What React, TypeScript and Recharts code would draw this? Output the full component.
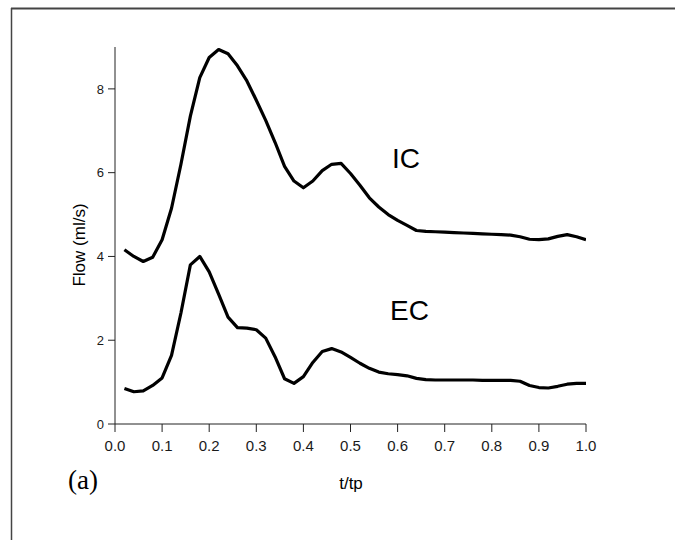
import React from "react";
import { LineChart, Line, XAxis, YAxis } from "recharts";

const T = [
  0.02, 0.04, 0.06, 0.08, 0.1, 0.12, 0.14, 0.16, 0.18, 0.2,
  0.22, 0.24, 0.26, 0.28, 0.3, 0.32, 0.34, 0.36, 0.38, 0.4,
  0.42, 0.44, 0.46, 0.48, 0.5, 0.52, 0.54, 0.56, 0.58, 0.6,
  0.62, 0.64, 0.66, 0.68, 0.7, 0.72, 0.74, 0.76, 0.78, 0.8,
  0.82, 0.84, 0.86, 0.88, 0.9, 0.92, 0.94, 0.96, 0.98, 1.0,
];

const IC = [
  4.16, 4.0, 3.88, 3.98, 4.4, 5.15, 6.2, 7.35, 8.27, 8.75,
  8.94, 8.84, 8.55, 8.19, 7.73, 7.25, 6.72, 6.15, 5.8, 5.64,
  5.8, 6.05, 6.2, 6.22, 5.98, 5.7, 5.4, 5.18, 5.0, 4.86,
  4.74, 4.62, 4.6, 4.59, 4.58, 4.57, 4.56, 4.55, 4.54, 4.53,
  4.52, 4.51, 4.47, 4.41, 4.4, 4.42, 4.48, 4.52, 4.47, 4.4,
];

const EC = [
  0.85, 0.77, 0.79, 0.92, 1.1, 1.64, 2.65, 3.8, 4.0, 3.63,
  3.1, 2.55, 2.3, 2.29, 2.25, 2.05, 1.6, 1.08, 0.97, 1.13,
  1.47, 1.73, 1.8, 1.72, 1.59, 1.45, 1.33, 1.24, 1.2, 1.18,
  1.15, 1.09, 1.06, 1.05, 1.05, 1.05, 1.05, 1.05, 1.04, 1.04,
  1.04, 1.04, 1.02, 0.92, 0.87, 0.86, 0.9, 0.95, 0.97, 0.97,
];

const X_TICKS = [0, 0.1, 0.2, 0.3, 0.4, 0.5, 0.6, 0.7, 0.8, 0.9, 1.0];
const Y_TICKS = [0, 2, 4, 6, 8];

const data = T.map((t, i) => ({ t, ic: IC[i], ec: EC[i] }));

const SANS = "'Liberation Sans', Arial, Helvetica, sans-serif";
const SERIF = "'Liberation Serif', 'Times New Roman', serif";

export default function App() {
  return (
    <div style={{ position: "absolute", left: 0, top: 0, width: 675, height: 540, background: "#fff", overflow: "hidden" }}>
      <LineChart
        width={675}
        height={540}
        data={data}
        margin={{ top: 47, right: 89, bottom: 86, left: 75 }}
      >
        <XAxis
          dataKey="t"
          type="number"
          domain={[0, 1]}
          ticks={X_TICKS}
          tickFormatter={(v: number) => v.toFixed(1)}
          height={30}
          tickSize={8}
          tickMargin={8}
          stroke="#222"
          tick={{ fill: "#1a1a1a", fontSize: 15, fontFamily: SANS }}
          allowDataOverflow
        />
        <YAxis
          type="number"
          domain={[0, 9]}
          ticks={Y_TICKS}
          width={40}
          tickSize={7}
          tickMargin={4}
          stroke="#222"
          tick={{ fill: "#1a1a1a", fontSize: 13, fontFamily: SANS }}
          allowDataOverflow
        />
        <Line
          dataKey="ic"
          type="linear"
          stroke="#000"
          strokeWidth={3.2}
          dot={false}
          isAnimationActive={false}
          strokeLinejoin="round"
        />
        <Line
          dataKey="ec"
          type="linear"
          stroke="#000"
          strokeWidth={3.2}
          dot={false}
          isAnimationActive={false}
          strokeLinejoin="round"
        />
      </LineChart>
      <svg
        width={675}
        height={540}
        style={{ position: "absolute", left: 0, top: 0, pointerEvents: "none" }}
      >
        <line x1={11} y1={8.5} x2={675} y2={8.5} stroke="#444" strokeWidth={2} />
        <line x1={11.5} y1={8} x2={11.5} y2={540} stroke="#444" strokeWidth={1.5} />
        <text x={392} y={168} fontFamily={SANS} fontSize={28} fill="#000">IC</text>
        <text x={390} y={320} fontFamily={SANS} fontSize={28} fill="#000">EC</text>
        <text x={68} y={489} fontFamily={SERIF} fontSize={27} fill="#000">(a)</text>
        <text x={351} y={489} fontFamily={SANS} fontSize={17} fill="#000" textAnchor="middle">t/tp</text>
        <text
          x={85}
          y={245}
          fontFamily={SANS}
          fontSize={17}
          fill="#000"
          textAnchor="middle"
          transform="rotate(-90 85 245)"
        >
          Flow (ml/s)
        </text>
      </svg>
    </div>
  );
}
